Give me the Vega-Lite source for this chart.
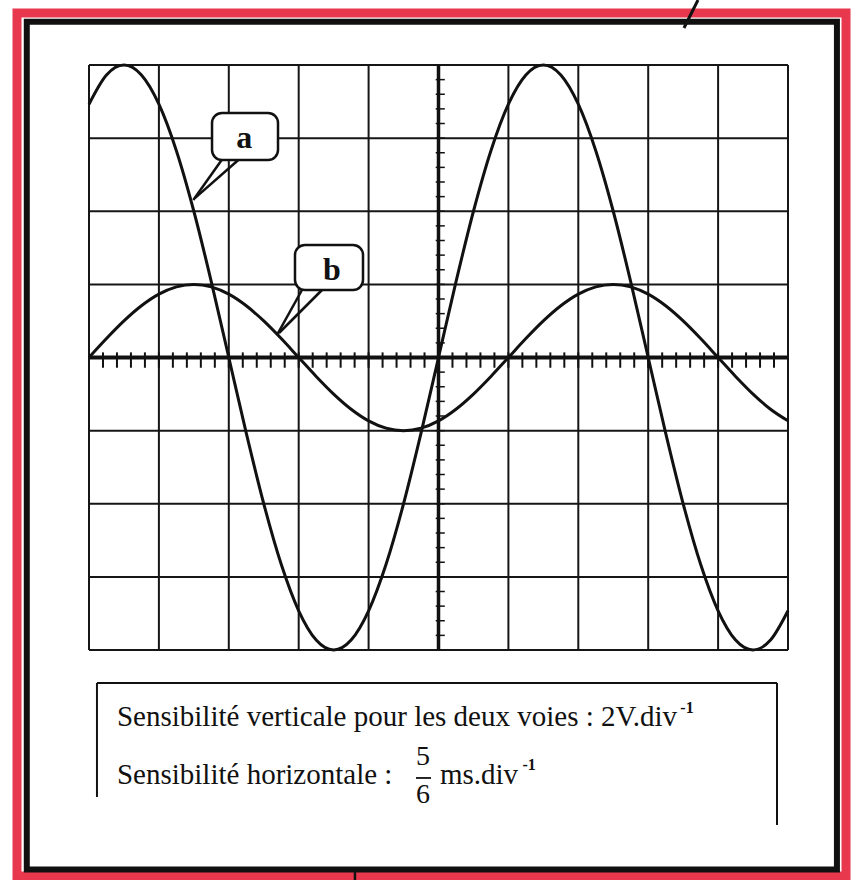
{
  "$schema": "https://vega.github.io/schema/vega-lite/v6.json",
  "width": 699,
  "height": 585,
  "autosize": {"type": "none"},
  "padding": {"left": 89, "top": 65, "right": 67, "bottom": 230},
  "background": "white",
  "config": {"view": {"stroke": null}},
  "datasets": {
    "traces": [
      {"x": 0, "a": 3.464, "b": 0},
      {"x": 0.25, "a": 3.864, "b": 0.259},
      {"x": 0.5, "a": 4, "b": 0.5},
      {"x": 0.75, "a": 3.864, "b": 0.707},
      {"x": 1, "a": 3.464, "b": 0.866},
      {"x": 1.25, "a": 2.828, "b": 0.966},
      {"x": 1.5, "a": 2, "b": 1},
      {"x": 1.75, "a": 1.035, "b": 0.966},
      {"x": 2, "a": 0, "b": 0.866},
      {"x": 2.25, "a": -1.035, "b": 0.707},
      {"x": 2.5, "a": -2, "b": 0.5},
      {"x": 2.75, "a": -2.828, "b": 0.259},
      {"x": 3, "a": -3.464, "b": 0},
      {"x": 3.25, "a": -3.864, "b": -0.259},
      {"x": 3.5, "a": -4, "b": -0.5},
      {"x": 3.75, "a": -3.864, "b": -0.707},
      {"x": 4, "a": -3.464, "b": -0.866},
      {"x": 4.25, "a": -2.828, "b": -0.966},
      {"x": 4.5, "a": -2, "b": -1},
      {"x": 4.75, "a": -1.035, "b": -0.966},
      {"x": 5, "a": 0, "b": -0.866},
      {"x": 5.25, "a": 1.035, "b": -0.707},
      {"x": 5.5, "a": 2, "b": -0.5},
      {"x": 5.75, "a": 2.828, "b": -0.259},
      {"x": 6, "a": 3.464, "b": 0},
      {"x": 6.25, "a": 3.864, "b": 0.259},
      {"x": 6.5, "a": 4, "b": 0.5},
      {"x": 6.75, "a": 3.864, "b": 0.707},
      {"x": 7, "a": 3.464, "b": 0.866},
      {"x": 7.25, "a": 2.828, "b": 0.966},
      {"x": 7.5, "a": 2, "b": 1},
      {"x": 7.75, "a": 1.035, "b": 0.966},
      {"x": 8, "a": 0, "b": 0.866},
      {"x": 8.25, "a": -1.035, "b": 0.707},
      {"x": 8.5, "a": -2, "b": 0.5},
      {"x": 8.75, "a": -2.828, "b": 0.259},
      {"x": 9, "a": -3.464, "b": 0},
      {"x": 9.25, "a": -3.864, "b": -0.259},
      {"x": 9.5, "a": -4, "b": -0.5},
      {"x": 9.75, "a": -3.864, "b": -0.707},
      {"x": 10, "a": -3.464, "b": -0.866}
    ],
    "colonnes": [
      {"d": 0}, {"d": 1}, {"d": 2}, {"d": 3}, {"d": 4}, {"d": 5},
      {"d": 6}, {"d": 7}, {"d": 8}, {"d": 9}, {"d": 10}
    ],
    "lignes": [
      {"d": -4}, {"d": -3}, {"d": -2}, {"d": -1}, {"d": 0},
      {"d": 1}, {"d": 2}, {"d": 3}, {"d": 4}
    ],
    "graduationsH": [
      {"t": 0.2}, {"t": 0.4}, {"t": 0.6}, {"t": 0.8}, {"t": 1.0},
      {"t": 1.2}, {"t": 1.4}, {"t": 1.6}, {"t": 1.8}, {"t": 2.0},
      {"t": 2.2}, {"t": 2.4}, {"t": 2.6}, {"t": 2.8}, {"t": 3.0},
      {"t": 3.2}, {"t": 3.4}, {"t": 3.6}, {"t": 3.8}, {"t": 4.0},
      {"t": 4.2}, {"t": 4.4}, {"t": 4.6}, {"t": 4.8}, {"t": 5.0},
      {"t": 5.2}, {"t": 5.4}, {"t": 5.6}, {"t": 5.8}, {"t": 6.0},
      {"t": 6.2}, {"t": 6.4}, {"t": 6.6}, {"t": 6.8}, {"t": 7.0},
      {"t": 7.2}, {"t": 7.4}, {"t": 7.6}, {"t": 7.8}, {"t": 8.0},
      {"t": 8.2}, {"t": 8.4}, {"t": 8.6}, {"t": 8.8}, {"t": 9.0},
      {"t": 9.2}, {"t": 9.4}, {"t": 9.6}, {"t": 9.8}
    ],
    "graduationsV": [
      {"t": -3.8}, {"t": -3.6}, {"t": -3.4}, {"t": -3.2}, {"t": -3.0},
      {"t": -2.8}, {"t": -2.6}, {"t": -2.4}, {"t": -2.2}, {"t": -2.0},
      {"t": -1.8}, {"t": -1.6}, {"t": -1.4}, {"t": -1.2}, {"t": -1.0},
      {"t": -0.8}, {"t": -0.6}, {"t": -0.4}, {"t": -0.2}, {"t": 0.2},
      {"t": 0.4}, {"t": 0.6}, {"t": 0.8}, {"t": 1.0}, {"t": 1.2},
      {"t": 1.4}, {"t": 1.6}, {"t": 1.8}, {"t": 2.0}, {"t": 2.2},
      {"t": 2.4}, {"t": 2.6}, {"t": 2.8}, {"t": 3.0}, {"t": 3.2},
      {"t": 3.4}, {"t": 3.6}, {"t": 3.8}
    ]
  },
  "layer": [
    {
      "data": {"values": [{}]},
      "mark": {"type": "rect", "fill": null, "stroke": "#e8384e", "strokeWidth": 9},
      "encoding": {
        "x": {"datum": -1.03, "axis": null, "scale": {"domain": [0, 10], "nice": false, "zero": false}},
        "x2": {"datum": 10.83},
        "y": {"datum": 4.711, "axis": null, "scale": {"domain": [-4, 4], "nice": false, "zero": false}},
        "y2": {"datum": -7.09}
      }
    },
    {
      "data": {"values": [{}]},
      "mark": {"type": "rect", "fill": null, "stroke": "#101010", "strokeWidth": 6},
      "encoding": {
        "x": {"datum": -0.89, "axis": null},
        "x2": {"datum": 10.70},
        "y": {"datum": 4.59, "axis": null},
        "y2": {"datum": -7.0}
      }
    },
    {
      "data": {"name": "colonnes"},
      "mark": {"type": "rule", "color": "#161616", "strokeWidth": 2},
      "encoding": {
        "x": {"field": "d", "type": "quantitative", "axis": null},
        "y": {"datum": 4, "axis": null},
        "y2": {"datum": -4}
      }
    },
    {
      "data": {"name": "lignes"},
      "mark": {"type": "rule", "color": "#161616", "strokeWidth": 2},
      "encoding": {
        "y": {"field": "d", "type": "quantitative", "axis": null},
        "x": {"datum": 0, "axis": null},
        "x2": {"datum": 10}
      }
    },
    {
      "data": {"values": [{}]},
      "mark": {"type": "rule", "color": "#111111", "strokeWidth": 4},
      "encoding": {"y": {"datum": 0, "axis": null}, "x": {"datum": 0, "axis": null}, "x2": {"datum": 10}}
    },
    {
      "data": {"values": [{}]},
      "mark": {"type": "rule", "color": "#111111", "strokeWidth": 3.5},
      "encoding": {"x": {"datum": 5, "axis": null}, "y": {"datum": 4, "axis": null}, "y2": {"datum": -4}}
    },
    {
      "data": {"name": "graduationsH"},
      "mark": {"type": "rule", "color": "#111111", "strokeWidth": 2},
      "encoding": {
        "x": {"field": "t", "type": "quantitative", "axis": null},
        "y": {"datum": 0.07, "axis": null},
        "y2": {"datum": -0.14}
      }
    },
    {
      "data": {"name": "graduationsV"},
      "mark": {"type": "rule", "color": "#111111", "strokeWidth": 1.5},
      "encoding": {
        "y": {"field": "t", "type": "quantitative", "axis": null},
        "x": {"datum": 4.96, "axis": null},
        "x2": {"datum": 5.09}
      }
    },
    {
      "data": {"name": "traces"},
      "transform": [{"fold": ["a", "b"], "as": ["voie", "v"]}],
      "mark": {"type": "line", "color": "#111111", "strokeWidth": 3, "interpolate": "monotone"},
      "encoding": {
        "x": {"field": "x", "type": "quantitative", "axis": null},
        "y": {"field": "v", "type": "quantitative", "axis": null},
        "detail": {"field": "voie"}
      }
    },
    {
      "data": {"values": [{}]},
      "mark": {"type": "rect", "fill": "white", "stroke": "#111111", "strokeWidth": 2.5, "cornerRadius": 10},
      "encoding": {
        "x": {"datum": 1.76, "axis": null},
        "x2": {"datum": 2.704},
        "y": {"datum": 3.344, "axis": null},
        "y2": {"datum": 2.701}
      }
    },
    {
      "data": {"values": [{}]},
      "mark": {"type": "rule", "color": "#111111", "strokeWidth": 2.5},
      "encoding": {
        "x": {"datum": 1.898, "axis": null}, "x2": {"datum": 1.492},
        "y": {"datum": 2.701, "axis": null}, "y2": {"datum": 2.154}
      }
    },
    {
      "data": {"values": [{}]},
      "mark": {"type": "rule", "color": "#111111", "strokeWidth": 2.5},
      "encoding": {
        "x": {"datum": 2.136, "axis": null}, "x2": {"datum": 1.515},
        "y": {"datum": 2.701, "axis": null}, "y2": {"datum": 2.18}
      }
    },
    {
      "data": {"values": [{"etiquette": "a"}]},
      "mark": {"type": "text", "font": "Liberation Serif", "fontWeight": "bold", "fontSize": 32, "align": "center", "baseline": "middle", "color": "#111111"},
      "encoding": {
        "x": {"datum": 2.22, "axis": null},
        "y": {"datum": 3.0, "axis": null},
        "text": {"field": "etiquette"}
      }
    },
    {
      "data": {"values": [{}]},
      "mark": {"type": "rect", "fill": "white", "stroke": "#111111", "strokeWidth": 2.5, "cornerRadius": 10},
      "encoding": {
        "x": {"datum": 2.947, "axis": null},
        "x2": {"datum": 3.92},
        "y": {"datum": 1.538, "axis": null},
        "y2": {"datum": 0.923}
      }
    },
    {
      "data": {"values": [{}]},
      "mark": {"type": "rule", "color": "#111111", "strokeWidth": 2.5},
      "encoding": {
        "x": {"datum": 3.047, "axis": null}, "x2": {"datum": 2.69},
        "y": {"datum": 0.923, "axis": null}, "y2": {"datum": 0.308}
      }
    },
    {
      "data": {"values": [{}]},
      "mark": {"type": "rule", "color": "#111111", "strokeWidth": 2.5},
      "encoding": {
        "x": {"datum": 3.333, "axis": null}, "x2": {"datum": 2.718},
        "y": {"datum": 0.923, "axis": null}, "y2": {"datum": 0.335}
      }
    },
    {
      "data": {"values": [{"etiquette": "b"}]},
      "mark": {"type": "text", "font": "Liberation Serif", "fontWeight": "bold", "fontSize": 32, "align": "center", "baseline": "middle", "color": "#111111"},
      "encoding": {
        "x": {"datum": 3.476, "axis": null},
        "y": {"datum": 1.2, "axis": null},
        "text": {"field": "etiquette"}
      }
    },
    {
      "data": {"values": [{}]},
      "mark": {"type": "rule", "color": "#111111", "strokeWidth": 2},
      "encoding": {
        "x": {"datum": 0.114, "axis": null}, "x2": {"datum": 9.843},
        "y": {"datum": -4.451, "axis": null}
      }
    },
    {
      "data": {"values": [{}]},
      "mark": {"type": "rule", "color": "#111111", "strokeWidth": 2},
      "encoding": {
        "x": {"datum": 0.114, "axis": null},
        "y": {"datum": -4.451, "axis": null}, "y2": {"datum": -6.01}
      }
    },
    {
      "data": {"values": [{}]},
      "mark": {"type": "rule", "color": "#111111", "strokeWidth": 2},
      "encoding": {
        "x": {"datum": 9.843, "axis": null},
        "y": {"datum": -4.451, "axis": null}, "y2": {"datum": -6.393}
      }
    },
    {
      "data": {"values": [{"ligne": "Sensibilité verticale pour les deux voies : 2V.div"}]},
      "mark": {"type": "text", "font": "Liberation Serif", "fontSize": 29, "align": "left", "baseline": "alphabetic", "color": "#111111"},
      "encoding": {
        "x": {"datum": 0.4, "axis": null},
        "y": {"datum": -5.039, "axis": null},
        "text": {"field": "ligne"}
      }
    },
    {
      "data": {"values": [{"ligne": "-1"}]},
      "mark": {"type": "text", "font": "Liberation Serif", "fontSize": 16, "fontWeight": "bold", "align": "left", "baseline": "alphabetic", "color": "#111111"},
      "encoding": {
        "x": {"datum": 8.46, "axis": null},
        "y": {"datum": -4.86, "axis": null},
        "text": {"field": "ligne"}
      }
    },
    {
      "data": {"values": [{"ligne": "Sensibilité horizontale :"}]},
      "mark": {"type": "text", "font": "Liberation Serif", "fontSize": 29, "align": "left", "baseline": "alphabetic", "color": "#111111"},
      "encoding": {
        "x": {"datum": 0.4, "axis": null},
        "y": {"datum": -5.833, "axis": null},
        "text": {"field": "ligne"}
      }
    },
    {
      "data": {"values": [{"ligne": "5"}]},
      "mark": {"type": "text", "font": "Liberation Serif", "fontSize": 28, "align": "center", "baseline": "alphabetic", "color": "#111111"},
      "encoding": {
        "x": {"datum": 4.778, "axis": null},
        "y": {"datum": -5.573, "axis": null},
        "text": {"field": "ligne"}
      }
    },
    {
      "data": {"values": [{}]},
      "mark": {"type": "rule", "color": "#111111", "strokeWidth": 1.8},
      "encoding": {
        "x": {"datum": 4.678, "axis": null}, "x2": {"datum": 4.893},
        "y": {"datum": -5.75, "axis": null}
      }
    },
    {
      "data": {"values": [{"ligne": "6"}]},
      "mark": {"type": "text", "font": "Liberation Serif", "fontSize": 28, "align": "center", "baseline": "alphabetic", "color": "#111111"},
      "encoding": {
        "x": {"datum": 4.778, "axis": null},
        "y": {"datum": -6.092, "axis": null},
        "text": {"field": "ligne"}
      }
    },
    {
      "data": {"values": [{"ligne": "ms.div"}]},
      "mark": {"type": "text", "font": "Liberation Serif", "fontSize": 29, "align": "left", "baseline": "alphabetic", "color": "#111111"},
      "encoding": {
        "x": {"datum": 5.021, "axis": null},
        "y": {"datum": -5.833, "axis": null},
        "text": {"field": "ligne"}
      }
    },
    {
      "data": {"values": [{"ligne": "-1"}]},
      "mark": {"type": "text", "font": "Liberation Serif", "fontSize": 16, "fontWeight": "bold", "align": "left", "baseline": "alphabetic", "color": "#111111"},
      "encoding": {
        "x": {"datum": 6.2, "axis": null},
        "y": {"datum": -5.64, "axis": null},
        "text": {"field": "ligne"}
      }
    },
    {
      "data": {"values": [{}]},
      "mark": {"type": "rule", "color": "#111111", "strokeWidth": 3},
      "encoding": {
        "x": {"datum": 8.512, "axis": null}, "x2": {"datum": 8.712},
        "y": {"datum": 4.506, "axis": null}, "y2": {"datum": 4.889}
      }
    },
    {
      "data": {"values": [{}]},
      "mark": {"type": "rule", "color": "#111111", "strokeWidth": 2.5},
      "encoding": {
        "x": {"datum": 3.805, "axis": null},
        "y": {"datum": -7.02, "axis": null}, "y2": {"datum": -7.15}
      }
    }
  ]
}
